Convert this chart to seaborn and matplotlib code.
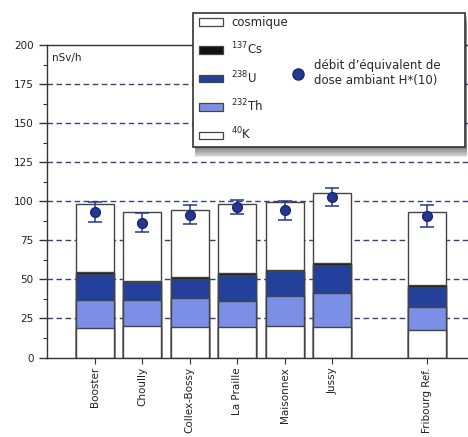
import pandas as pd
import numpy as np
import matplotlib
matplotlib.use("Agg")
import matplotlib.pyplot as plt
import seaborn as sns
from matplotlib.patches import Patch, Rectangle
from matplotlib.lines import Line2D
from matplotlib.ticker import MultipleLocator

# values (nSv/h)
sites = ["Booster", "Choully", "Collex-Bossy", "La Praille", "Maisonnex", "Jussy", "Fribourg Ref."]
k40 = [18.7, 20.4, 19.6, 19.6, 20.4, 19.6, 17.5]
th232 = [17.9, 16.6, 18.5, 16.6, 18.8, 21.7, 14.6]
u238 = [17.1, 11.1, 12.1, 16.8, 16.0, 17.7, 13.1]
cs137 = [1.3, 1.1, 1.3, 1.3, 1.0, 1.5, 1.2]
cosmic = [43.4, 43.7, 42.6, 44.1, 43.5, 44.7, 46.9]
h10 = [93.0, 86.3, 91.4, 96.3, 94.1, 102.7, 90.7]
h10_err = [6.5, 6.0, 6.0, 4.7, 5.8, 6.0, 7.0]

# blank slot between Jussy and the reference site
order = sites[:6] + [" "] + sites[6:]

layers = ["40K", "232Th", "238U", "137Cs", "cosmique"]
colors = {"40K": "white", "232Th": "#7b8fe6", "238U": "#23409c",
          "137Cs": "#111111", "cosmique": "white"}
labels = {"40K": r"$^{40}$K", "232Th": r"$^{232}$Th", "238U": r"$^{238}$U",
          "137Cs": r"$^{137}$Cs", "cosmique": "cosmique"}

df = pd.DataFrame({"site": sites, "40K": k40, "232Th": th232, "238U": u238,
                   "137Cs": cs137, "cosmique": cosmic})
cum = df[layers].cumsum(axis=1)
cum["site"] = df["site"]

sns.set_style("white")
plt.rcParams["font.family"] = ["DejaVu Sans"]
plt.rcParams["mathtext.fontset"] = "dejavusans"

fig = plt.figure(figsize=(4.68, 4.37), dpi=100)
ax = fig.add_axes([47 / 468, 79.5 / 437, 421 / 468, 312.5 / 437])

edge = "#444444"
# stacked bars: draw cumulative heights from the top layer down
for layer in reversed(layers):
    sns.barplot(data=cum, x="site", y=layer, order=order, color=colors[layer],
                saturation=1, errorbar=None, width=0.8, edgecolor=edge,
                linewidth=1.0, ax=ax)

xpos = [order.index(s) for s in sites]
ax.errorbar(xpos, h10, yerr=h10_err, fmt="o", color="#26378f", ms=7,
            mec="#1a2670", elinewidth=1.1, capsize=5, capthick=1.1, zorder=5)

ax.set_ylim(0, 200)
ax.set_xlim(-1.0, 7.86)
ax.yaxis.set_major_locator(MultipleLocator(25))
ax.yaxis.set_minor_locator(MultipleLocator(12.5))
ax.set_xticks(xpos)
ax.set_xticklabels(sites, rotation=90, fontsize=7.5, color="#222222")
ax.tick_params(axis="y", which="major", length=6, width=1, labelsize=7.5,
               direction="out", left=True, color="#333333", labelcolor="#222222")
ax.tick_params(axis="y", which="minor", length=3, width=0.8, direction="out",
               left=True, color="#333333")
ax.tick_params(axis="x", length=4, width=0.8, direction="out", bottom=True,
               color="#333333", pad=3)
ax.set_xlabel("")
ax.set_ylabel("")

for y in range(25, 200, 25):
    ax.axhline(y, color="#33437e", lw=1.0, ls=(0, (4, 2.5)), zorder=0.5)
ax.set_axisbelow(True)

for s in ["left", "bottom", "top"]:
    ax.spines[s].set_color("#333333")
    ax.spines[s].set_linewidth(1.0)
ax.spines["right"].set_visible(False)

ax.text(0.012, 0.975, "nSv/h", transform=ax.transAxes, fontsize=7.5,
        va="top", ha="left", color="#222222")

# legend frame with a soft shadow
W, H = 468, 437
fx0, fy0, fw, fh = 193 / W, (H - 147) / H, 272 / W, 134 / H
for k in range(7):
    fig.add_artist(Rectangle((fx0 + 2 / W, fy0 - (2 + k * 1.4) / H), fw, fh,
                             transform=fig.transFigure, facecolor="#333333",
                             edgecolor="none", alpha=0.11, zorder=3))
fig.add_artist(Rectangle((fx0, fy0), fw, fh, transform=fig.transFigure,
                         facecolor="white", edgecolor="#333333", lw=1.2, zorder=3.5))

handles = [Patch(facecolor=colors[l], edgecolor=edge, lw=0.9) for l in reversed(layers)]
leg1 = fig.legend(handles, [labels[l] for l in reversed(layers)],
                  loc="upper left", bbox_to_anchor=(199 / W, (H - 16) / H),
                  frameon=False, fontsize=8.5, handlelength=2.0, handleheight=0.6,
                  handletextpad=0.7, labelspacing=1.0, borderpad=0, borderaxespad=0)
leg1.set_zorder(4)

dot = Line2D([], [], marker="o", ls="none", color="#26378f", mec="#1a2670", ms=8)
leg2 = fig.legend([dot], ["débit d\u2019équivalent de\ndose ambiant H*(10)"],
                  loc="center left", bbox_to_anchor=(292 / W, (H - 73) / H),
                  frameon=False, fontsize=8.5, handlelength=1.0,
                  handletextpad=0.9, borderpad=0, borderaxespad=0)
leg2.set_zorder(4)

fig.savefig("out.png", dpi=100)
plt.close(fig)
